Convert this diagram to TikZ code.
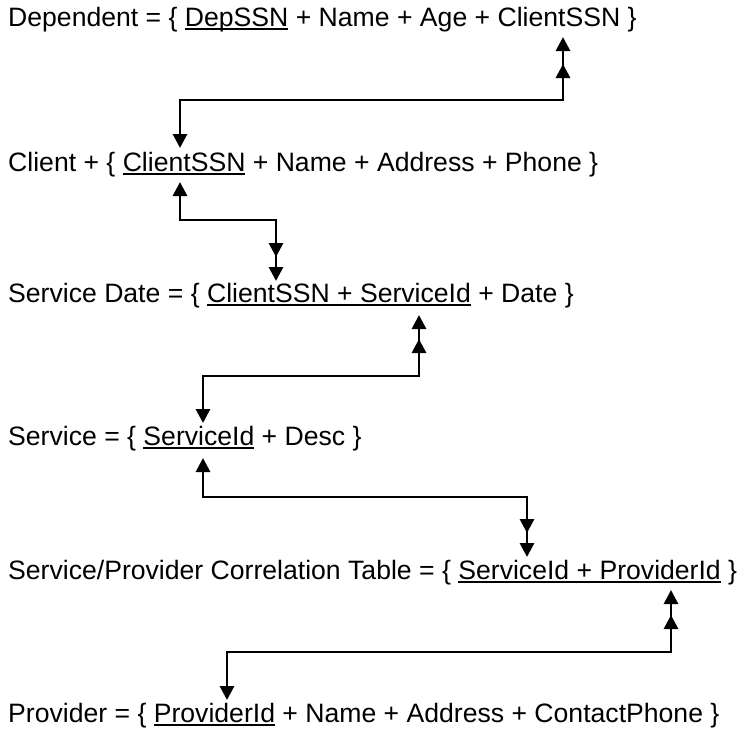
\documentclass[tikz,border=0pt]{standalone}
\usepackage{fontspec}
\setmainfont{Liberation Sans}
\usetikzlibrary{arrows.meta,calc}
\newcommand\keyul[1]{\setbox0\hbox{#1}\rlap{\rule[-3.8pt]{\wd0}{1.7pt}}\box0\relax}
\tikzset{
  entity/.style={anchor=base west, inner sep=0pt, font=\fontsize{26.6}{30}\selectfont},
  link/.style={line width=2.9pt, {Triangle[length=14pt,width=14pt]}-{Triangle[length=14pt,width=14pt]}},
  extra/.style={line width=2.9pt, -{Triangle[length=14pt,width=14pt]}}
}
\begin{document}
\begin{tikzpicture}[x=1pt,y=-1pt]
\useasboundingbox (0,0) rectangle (747,732);
\node[entity] (dep) at (8,26) {Dependent = \{ \keyul{DepSSN} + Name + Age + ClientSSN \}};
\node[entity] (cli) at (8,171) {Client + \{ \keyul{ClientSSN} + Name + Address + Phone \}};
\node[entity] (sd) at (8,302) {Service Date = \{ \keyul{ClientSSN + ServiceId} + Date \}};
\node[entity] (srv) at (8,445) {Service = \{ \keyul{ServiceId} + Desc \}};
\node[entity] (spc) at (8,579) {Service/Provider Correlation Table = \{ \keyul{ServiceId + ProviderId} \}};
\node[entity] (prov) at (8,722) {Provider = \{ \keyul{ProviderId} + Name + Address + ContactPhone \}};
% connector end points
\coordinate (c1a) at (180,148); \coordinate (c1b) at (563,37); \coordinate (h1) at (0,100);
\coordinate (c2a) at (180,182); \coordinate (c2b) at (276,281); \coordinate (h2) at (0,220);
\coordinate (c3a) at (203,423); \coordinate (c3b) at (419,315); \coordinate (h3) at (0,376);
\coordinate (c4a) at (203,458); \coordinate (c4b) at (527,557); \coordinate (h4) at (0,497);
\coordinate (c5a) at (227,700); \coordinate (c5b) at (671,590); \coordinate (h5) at (0,652);
% connectors
\draw[link] (c1a) -- (c1a |- h1) -- (c1b |- h1) -- (c1b);
\draw[extra] (c1b |- h1) -- ($(c1b)+(0,27)$);
\draw[link] (c2a) -- (c2a |- h2) -- (c2b |- h2) -- (c2b);
\draw[extra] (c2b |- h2) -- ($(c2b)+(0,-24)$);
\draw[link] (c3a) -- (c3a |- h3) -- (c3b |- h3) -- (c3b);
\draw[extra] (c3b |- h3) -- ($(c3b)+(0,24)$);
\draw[link] (c4a) -- (c4a |- h4) -- (c4b |- h4) -- (c4b);
\draw[extra] (c4b |- h4) -- ($(c4b)+(0,-24)$);
\draw[link] (c5a) -- (c5a |- h5) -- (c5b |- h5) -- (c5b);
\draw[extra] (c5b |- h5) -- ($(c5b)+(0,25)$);
\end{tikzpicture}
\end{document}
